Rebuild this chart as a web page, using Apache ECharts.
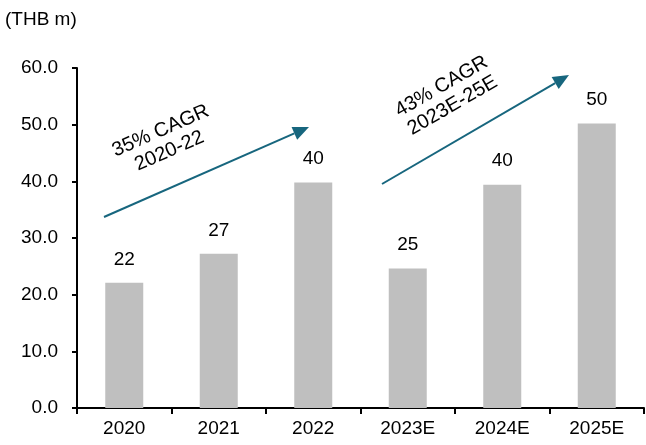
<!DOCTYPE html>
<html><head><meta charset="utf-8">
<script src="https://cdn.jsdelivr.net/npm/echarts@6/dist/echarts.min.js"></script>
<style>html,body{margin:0;padding:0;background:#fff}#c{width:646px;height:445px}</style>
</head><body><div id="c"></div>
<script>
const categories = ['2020','2021','2022','2023E','2024E','2025E'];
const values = [22.1, 27.2, 39.8, 24.6, 39.4, 50.2];
const labels = ['22','27','40','25','40','50'];
const yTicks = ['0.0','10.0','20.0','30.0','40.0','50.0','60.0'];
const unitLabel = '(THB m)';
const cagr1 = ['35% CAGR', '2020-22'];
const cagr2 = ['43% CAGR', '2023E-25E'];

const FONT = '"Liberation Sans", Arial, sans-serif';
const FS = 19;
const ARROW = '#17667e';
const chart = echarts.init(document.getElementById('c'));

function arrow(x1, y1, x2, y2) {
  const ang = Math.atan2(y2 - y1, x2 - x1);
  const L = 16, W = 7;
  const bx = x2 - L * Math.cos(ang), by = y2 - L * Math.sin(ang);
  const px = -Math.sin(ang) * W, py = Math.cos(ang) * W;
  return [
    { type: 'line', shape: { x1, y1, x2: bx, y2: by }, style: { stroke: ARROW, lineWidth: 2 } },
    { type: 'polygon', shape: { points: [[x2, y2], [bx + px, by + py], [bx - px, by - py]] }, style: { fill: ARROW } }
  ];
}
function rotText(lines, cx, cy, deg) {
  return {
    type: 'text', x: cx, y: cy, rotation: deg * Math.PI / 180,
    style: { text: lines.join('\n'), font: '20px ' + FONT, fill: '#000', align: 'center', verticalAlign: 'middle', lineHeight: 22 }
  };
}

chart.setOption({
  animation: false,
  grid: { left: 77, right: 2, top: 68, bottom: 37 },
  xAxis: {
    type: 'category', data: categories,
    axisLine: { lineStyle: { color: '#000', width: 2 } },
    axisTick: { show: true, length: 6, lineStyle: { color: '#000', width: 2 } },
    axisLabel: { color: '#000', fontSize: FS, fontFamily: FONT, margin: 11 }
  },
  yAxis: {
    type: 'value', min: 0, max: 60, interval: 10,
    axisLine: { show: true, lineStyle: { color: '#000', width: 2 } },
    axisTick: { show: true, length: 5, lineStyle: { color: '#000', width: 2 } },
    splitLine: { show: false },
    axisLabel: { color: '#000', fontSize: FS, fontFamily: FONT, margin: 19,
      formatter: v => yTicks[Math.round(v / 10)] }
  },
  series: [{
    type: 'bar', data: values, barWidth: 38,
    itemStyle: { color: '#bfbfbf' },
    label: { show: true, position: 'top', distance: 14, color: '#000', fontSize: FS, fontFamily: FONT,
      formatter: p => labels[p.dataIndex] }
  }],
  graphic: [
    { type: 'text', left: 5, top: 10, style: { text: unitLabel, font: FS + 'px ' + FONT, fill: '#000' } },
    ...arrow(104, 217, 309, 127),
    ...arrow(382, 184, 569, 75),
    rotText(cagr1, 165, 141, 23.7),
    rotText(cagr2, 447, 96, 30)
  ]
});
</script></body></html>
